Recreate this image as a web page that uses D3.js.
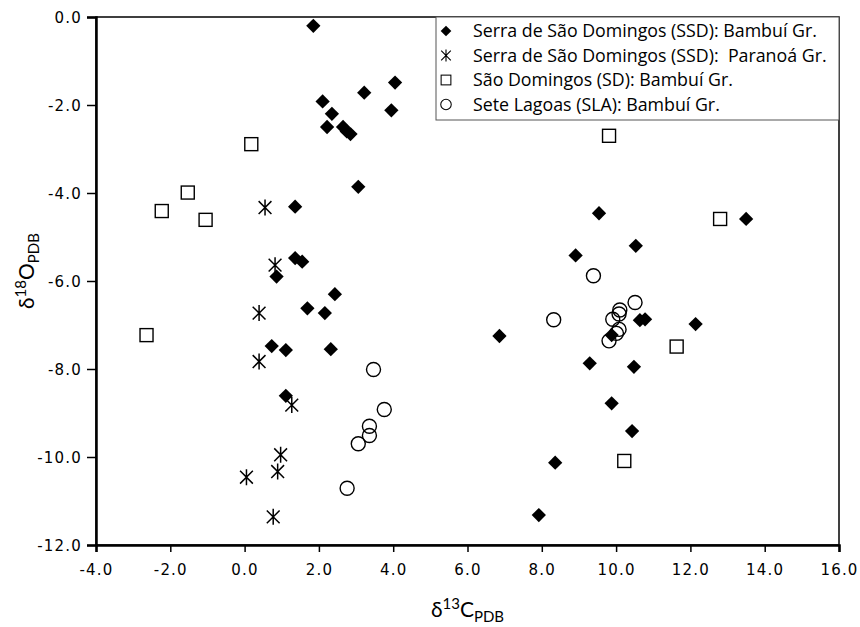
<!DOCTYPE html>
<html>
<head>
<meta charset="utf-8">
<script src="https://d3js.org/d3.v7.min.js"></script>
<style>
  body { margin: 0; background: #fff; }
  text { font-family: Lato, "Open Sans", sans-serif; fill: #000; }
</style>
</head>
<body>
<div id="chart"></div>
<script>
// Serra de São Domingos (SSD): Bambuí Gr. -- filled diamonds
var ssdBambuiX = [1.85, 4.05, 3.22, 2.10, 3.95, 2.35, 2.22, 2.65, 2.85, 2.75, 3.06, 1.36, 1.36, 1.55, 0.86, 2.43, 1.69, 2.16, 0.73, 1.11, 2.32, 1.11,
                  9.54, 13.50, 10.53, 8.91, 6.86, 10.64, 10.78, 9.88, 12.14, 9.29, 10.48, 9.88, 10.43, 8.36, 7.92];
var ssdBambuiY = [-0.20, -1.49, -1.72, -1.92, -2.12, -2.20, -2.50, -2.50, -2.66, -2.60, -3.86, -4.31, -5.48, -5.56, -5.90, -6.30, -6.62, -6.73, -7.48, -7.57, -7.55, -8.61,
                  -4.46, -4.59, -5.20, -5.42, -7.25, -6.89, -6.87, -7.23, -6.98, -7.87, -7.95, -8.78, -9.41, -10.13, -11.32];

// Serra de São Domingos (SSD): Paranoá Gr. -- asterisks
var ssdParanoaX = [0.55, 0.82, 0.39, 0.39, 1.27, 0.97, 0.89, 0.05, 0.77];
var ssdParanoaY = [-4.33, -5.64, -6.73, -7.83, -8.82, -9.95, -10.33, -10.46, -11.36];

// São Domingos (SD): Bambuí Gr. -- open squares
var sdBambuiX = [0.18, -1.53, -2.23, -1.05, -2.64, 9.81, 12.80, 11.63, 10.22];
var sdBambuiY = [-2.89, -3.99, -4.41, -4.61, -7.23, -2.70, -4.59, -7.49, -10.09];

// Sete Lagoas (SLA): Bambuí Gr. -- open circles
var slaBambuiX = [3.47, 3.76, 3.36, 3.36, 3.06, 2.76, 9.39, 8.32, 10.51, 10.10, 10.08, 9.91, 10.08, 10.01, 9.81];
var slaBambuiY = [-8.01, -8.92, -9.30, -9.51, -9.70, -10.71, -5.88, -6.88, -6.49, -6.66, -6.75, -6.87, -7.10, -7.19, -7.36];

var xTicks = [-4, -2, 0, 2, 4, 6, 8, 10, 12, 14, 16];
var yTicks = [0, -2, -4, -6, -8, -10, -12];

var legendLabels = [
  "Serra de São Domingos (SSD): Bambuí Gr.",
  "Serra de São Domingos (SSD):  Paranoá Gr.",
  "São Domingos (SD): Bambuí Gr.",
  "Sete Lagoas (SLA): Bambuí Gr."
];
var legendShapes = ["diamond", "star", "square", "circle"];

var W = 860, H = 627;
var margin = { top: 17, right: 21, bottom: 82, left: 96 };
var width = W - margin.left - margin.right;
var height = H - margin.top - margin.bottom;

var svg = d3.select("#chart").append("svg")
  .attr("width", W)
  .attr("height", H);

var g = svg.append("g")
  .attr("transform", "translate(" + margin.left + "," + margin.top + ")");

var x = d3.scaleLinear().domain([-4, 16]).range([0, width]);
var y = d3.scaleLinear().domain([-12, 0]).range([height, 0]);

// frame
g.append("rect")
  .attr("width", width).attr("height", height)
  .attr("fill", "none").attr("stroke", "#000").attr("stroke-width", 1.5);

// axes
var xAxis = g.append("g")
  .attr("transform", "translate(0," + height + ")")
  .call(d3.axisBottom(x).tickValues(xTicks).tickSize(7).tickPadding(12).tickFormat(d3.format(".1f")));
var yAxis = g.append("g")
  .call(d3.axisLeft(y).tickValues(yTicks).tickSize(9).tickPadding(5).tickFormat(d3.format(".1f")));

[xAxis, yAxis].forEach(function (a) {
  a.select(".domain").attr("stroke-width", 2.5);
  a.selectAll(".tick line").attr("stroke-width", 1.5);
  a.selectAll(".tick text")
    .style("font-family", "'DejaVu Sans', sans-serif")
    .style("font-size", "15px")
    .style("letter-spacing", "1.2px")
    .text(function (d) { return d3.format(".1f")(d).replace("−", "-"); });
});
yAxis.selectAll(".tick text").attr("dy", "0.35em");

// marker drawing
var symDiamond = d3.symbol().type(d3.symbolDiamond2).size(130);
function drawMarker(sel, shape) {
  if (shape === "diamond") {
    sel.append("path").attr("d", symDiamond()).attr("fill", "#000");
  } else if (shape === "square") {
    sel.append("rect").attr("x", -6.5).attr("y", -6.5).attr("width", 13).attr("height", 13)
      .attr("fill", "#fff").attr("stroke", "#000").attr("stroke-width", 1.4);
  } else if (shape === "circle") {
    sel.append("circle").attr("r", 7).attr("fill", "none").attr("stroke", "#000").attr("stroke-width", 1.4);
  } else {
    var r = 8;
    sel.append("path")
      .attr("d", "M0," + (-r) + "V" + r +
        "M" + (-r * 0.8) + "," + (-r * 0.8) + "L" + (r * 0.8) + "," + (r * 0.8) +
        "M" + (r * 0.8) + "," + (-r * 0.8) + "L" + (-r * 0.8) + "," + (r * 0.8))
      .attr("stroke", "#000").attr("stroke-width", 1.5).attr("fill", "none");
  }
}

function plotSeries(xs, ys, shape) {
  var pts = xs.map(function (v, i) { return [v, ys[i]]; });
  g.append("g").selectAll("g")
    .data(pts)
    .join("g")
    .attr("transform", function (d) { return "translate(" + x(d[0]) + "," + y(d[1]) + ")"; })
    .each(function () { drawMarker(d3.select(this), shape); });
}

plotSeries(sdBambuiX, sdBambuiY, "square");
plotSeries(slaBambuiX, slaBambuiY, "circle");
plotSeries(ssdParanoaX, ssdParanoaY, "star");
plotSeries(ssdBambuiX, ssdBambuiY, "diamond");

// legend
var lg = g.append("g").attr("transform", "translate(" + (436 - margin.left) + ",0)");
lg.append("rect")
  .attr("width", width - (436 - margin.left)).attr("height", 103)
  .attr("fill", "#fff").attr("stroke", "#555").attr("stroke-width", 1);
legendLabels.forEach(function (lab, i) {
  var row = lg.append("g").attr("transform", "translate(0," + (14 + i * 24.5) + ")");
  var m = row.append("g").attr("transform", "translate(10,0) scale(0.75)");
  drawMarker(m, legendShapes[i]);
  row.append("text")
    .attr("x", 37).attr("dy", "0.35em")
    .style("font-family", "'Open Sans', sans-serif")
    .style("font-size", "17.8px")
    .style("white-space", "pre")
    .text(lab);
});

// axis titles
var xt = svg.append("text")
  .attr("x", margin.left + width / 2).attr("y", 617)
  .attr("text-anchor", "middle")
  .style("font-size", "21px");
xt.append("tspan").text("δ");
xt.append("tspan").attr("dy", -8).style("font-size", "15px").text("13");
xt.append("tspan").attr("dy", 8).text("C");
xt.append("tspan").attr("dy", 5).style("font-size", "15px").text("PDB");

var yt = svg.append("text")
  .attr("transform", "translate(34," + (margin.top + height / 2 - 10) + ") rotate(-90)")
  .attr("text-anchor", "middle")
  .style("font-size", "21px");
yt.append("tspan").text("δ");
yt.append("tspan").attr("dy", -8).style("font-size", "15px").text("18");
yt.append("tspan").attr("dy", 8).text("O");
yt.append("tspan").attr("dy", 5).style("font-size", "15px").text("PDB");
</script>
</body>
</html>
